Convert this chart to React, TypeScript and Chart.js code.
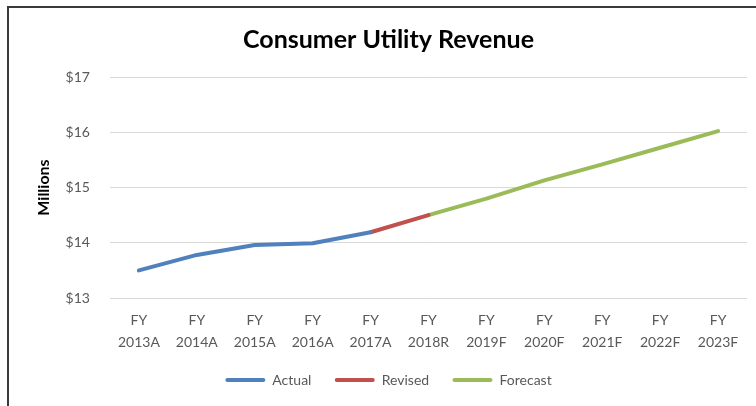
import React, { useEffect, useRef } from 'react';
import { Chart, registerables } from 'chart.js';

Chart.register(...registerables);

const categories: string[][] = [
  ['FY', '2013A'], ['FY', '2014A'], ['FY', '2015A'], ['FY', '2016A'], ['FY', '2017A'],
  ['FY', '2018R'], ['FY', '2019F'], ['FY', '2020F'], ['FY', '2021F'], ['FY', '2022F'], ['FY', '2023F'],
];
const actual = [13.5, 13.78, 13.96, 13.99, 14.19, null, null, null, null, null, null];
const revised = [null, null, null, null, 14.19, 14.5, null, null, null, null, null];
const forecast = [null, null, null, null, null, 14.5, 14.8, 15.13, 15.42, 15.72, 16.02];
const seriesNames = ['Actual', 'Revised', 'Forecast'];
const yMin = 13;
const yMax = 17;
const yStep = 1;

const FONT = 'Lato';
const GREY = '#595959';

export default function App() {
  const ref = useRef<HTMLCanvasElement | null>(null);

  useEffect(() => {
    if (!ref.current) return;
    const chart = new Chart(ref.current, {
      type: 'line',
      data: {
        labels: categories,
        datasets: [
          { label: seriesNames[0], data: actual, borderColor: '#4F81BD', backgroundColor: '#4F81BD' },
          { label: seriesNames[1], data: revised, borderColor: '#C0504D', backgroundColor: '#C0504D' },
          { label: seriesNames[2], data: forecast, borderColor: '#9BBB59', backgroundColor: '#9BBB59' },
        ],
      },
      options: {
        responsive: false,
        animation: false,
        spanGaps: false,
        elements: {
          line: { borderWidth: 4, borderCapStyle: 'round', borderJoinStyle: 'round', tension: 0 },
          point: { radius: 0, hoverRadius: 0 },
        },
        layout: { padding: { left: 30, right: 9, top: 0, bottom: 9 } },
        plugins: {
          title: {
            display: true,
            text: 'Consumer Utility Revenue',
            color: '#000000',
            font: { family: FONT, size: 25, weight: 'bold' },
            padding: { top: 25, bottom: 22 },
          },
          legend: {
            position: 'bottom',
            labels: {
              boxWidth: 40,
              boxHeight: 4,
              padding: 9,
              color: GREY,
              font: { family: FONT, size: 14 },
              useBorderRadius: true,
              generateLabels: (c: any) =>
                c.data.datasets.map((ds: any, i: number) => ({
                  text: i < c.data.datasets.length - 1 ? ds.label + '    ' : ds.label,
                  fillStyle: ds.borderColor,
                  strokeStyle: ds.borderColor,
                  lineWidth: 0,
                  borderRadius: 2,
                  hidden: false,
                  datasetIndex: i,
                  fontColor: GREY,
                })),
            },
          },
          tooltip: { enabled: false },
        },
        scales: {
          x: {
            offset: true,
            grid: { display: false, drawTicks: false },
            border: { display: false },
            ticks: {
              color: GREY,
              padding: 11,
              maxRotation: 0,
              autoSkip: false,
              font: { family: FONT, size: 14, lineHeight: 1.57 },
            },
          },
          y: {
            min: yMin,
            max: yMax,
            grid: { color: '#D9D9D9', lineWidth: 1, drawTicks: false },
            border: { display: false },
            ticks: {
              stepSize: yStep,
              color: GREY,
              padding: 20,
              font: { family: FONT, size: 14 },
              callback: (v: any) => '$' + v,
            },
            title: {
              display: true,
              text: 'Millions',
              color: '#000000',
              font: { family: FONT, size: 16, weight: 'bold' },
              padding: { top: 4.4, bottom: -8 },
            },
          },
        },
      },
    });
    return () => chart.destroy();
  }, []);

  return (
    <div style={{ position: 'fixed', left: 0, top: 0, width: 756, height: 406, overflow: 'hidden', background: '#fff' }}>
      <canvas ref={ref} width={756} height={406} style={{ display: 'block', width: 756, height: 406 }} />
      <div
        style={{
          position: 'absolute', left: 7, top: 6, width: 900, height: 500,
          borderTop: '2px solid #3a3a3a', borderLeft: '2px solid #3a3a3a', pointerEvents: 'none',
        }}
      />
    </div>
  );
}
